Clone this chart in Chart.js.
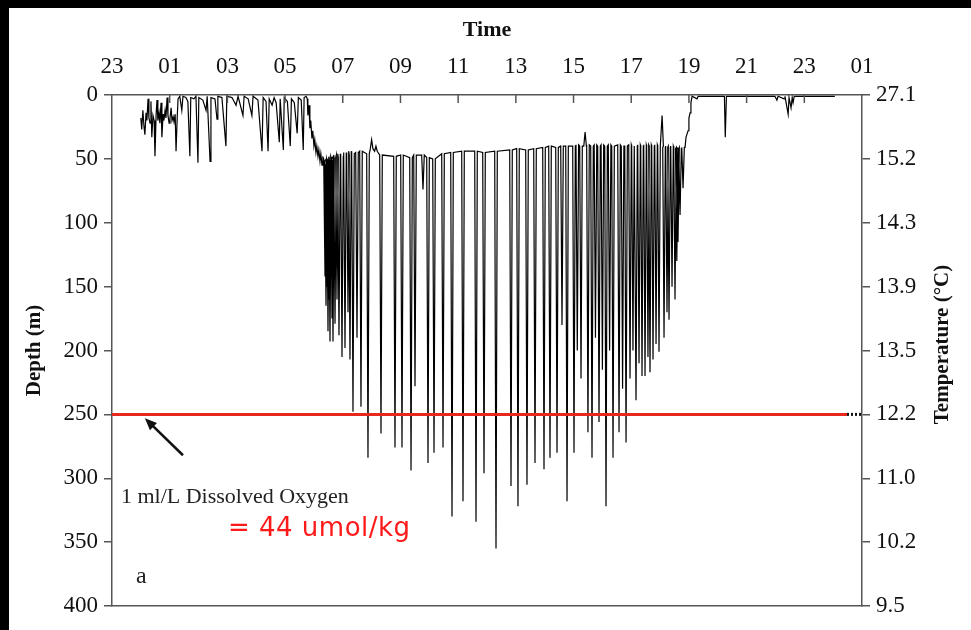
<!DOCTYPE html>
<html>
<head>
<meta charset="utf-8">
<script src="https://cdn.jsdelivr.net/npm/chart.js@4.4.0/dist/chart.umd.min.js"></script>
<style>
html, body { margin: 0; padding: 0; background: #fff; }
</style>
</head>
<body>
<canvas id="depthChart" width="971" height="630"></canvas>
<script>
// time is in hours after midnight of day 1 (23:00 the evening before = -1)
const timeTicks = [-1, 1, 3, 5, 7, 9, 11, 13, 15, 17, 19, 21, 23, 25];
const depthTicks = [0, 50, 100, 150, 200, 250, 300, 350, 400];
const tempLabels = ['27.1', '15.2', '14.3', '13.9', '13.5', '12.2', '11.0', '10.2', '9.5'];

// night: shallow trace, then the descent at dawn
const nightHours = [0.00, 0.03, 0.07, 0.11, 0.14, 0.18, 0.21, 0.25, 0.28, 0.32, 0.35, 0.38, 0.42, 0.46, 0.49,
    0.53, 0.56, 0.59, 0.63, 0.66, 0.70, 0.73, 0.77, 0.80, 0.84, 0.87, 0.91, 0.94, 0.98, 1.01, 1.05, 1.08, 1.12,
    1.15, 1.19, 1.22, 1.26, 1.29, 1.35, 1.42, 1.46, 1.56, 1.63, 1.70, 1.73, 1.84, 1.91, 1.98, 2.01, 2.15, 2.26,
    2.30, 2.40, 2.43, 2.57, 2.64, 2.67, 2.81, 2.95, 2.98, 3.16, 3.30, 3.37, 3.54, 3.58, 3.72, 3.85, 3.89, 4.06,
    4.20, 4.24, 4.34, 4.41, 4.45, 4.55, 4.62, 4.69, 4.80, 4.83, 4.94, 4.97, 5.08, 5.18, 5.22, 5.32, 5.42, 5.46,
    5.56, 5.63, 5.66, 5.73, 5.77, 5.79, 5.83, 5.86, 5.89, 5.93, 5.96, 6.00, 6.03, 6.07, 6.10, 6.14, 6.17, 6.21,
    6.24, 6.28, 6.31, 6.35];
const nightDepths = [18, 27, 12, 25, 31, 14, 20, 3, 18, 22, 5, 33, 16, 20, 48,
    15, 4, 20, 14, 22, 6, 33, 15, 20, 12, 18, 2, 16, 22, 18, 10, 20, 17,
    21, 15, 44, 18, 3, 1, 12, 1, 2, 5, 48, 2, 3, 1, 53, 2, 4, 12,
    1, 52, 2, 3, 19, 1, 2, 40, 1, 2, 8, 1, 16, 1, 3, 16, 1, 4,
    44, 2, 5, 44, 3, 8, 2, 6, 37, 3, 43, 2, 5, 40, 3, 6, 30, 2,
    4, 43, 2, 1, 3, 16, 8, 26, 20, 34, 28, 40, 35, 45, 40, 48, 43, 52,
    46, 55, 48, 53];

// day: dives below the ~45 m shelf (time of bottom, max depth, shelf depth around it)
const diveHours = [6.384, 6.419, 6.453, 6.488, 6.523, 6.557, 6.592, 6.627, 6.661, 6.731, 6.800, 6.869, 6.973,
    7.077, 7.181, 7.250, 7.354, 7.493, 7.631, 7.874, 8.00, 8.15, 8.325, 8.810, 9.053, 9.366, 9.504, 9.781,
    9.955, 10.163, 10.475, 10.787, 11.168, 11.619, 11.896, 12.312, 12.832, 13.074, 13.386, 13.664, 13.976,
    14.184, 14.427, 14.60, 14.774, 15.016, 15.13, 15.259, 15.40, 15.50, 15.640, 15.76, 15.883, 16.00, 16.126,
    16.25, 16.369, 16.577, 16.70, 16.820, 16.958, 17.06, 17.166, 17.27, 17.374, 17.478, 17.58, 17.651,
    17.755, 17.86, 17.963, 18.07, 18.137, 18.24, 18.310, 18.414, 18.518, 18.58, 18.622, 18.692, 18.796];
const diveDepths = [142, 165, 150, 185, 160, 193, 140, 175, 193, 179, 160, 188, 205,
    198, 170, 207, 248, 190, 244, 284, 35, 40, 265, 276, 276, 294, 228, 74,
    288, 280, 276, 330, 318, 334, 296, 355, 306, 322, 305, 288, 293,
    284, 280, 180, 318, 280, 200, 222, 29, 264, 284, 190, 256, 215, 322,
    200, 284, 264, 230, 272, 222, 200, 239, 210, 220, 220, 205, 217,
    207, 195, 201, 16, 190, 170, 176, 150, 160, 130, 115, 94, 73];
const shelfDepths = [50, 52, 55, 50, 53, 50, 52, 48, 50, 47, 49, 46, 48,
    45, 47, 44, 46, 45, 44, 46, 42, 44, 47, 48, 47, 49, 47, 47,
    49, 50, 46, 45, 44, 44, 45, 44, 43, 42, 43, 42, 41,
    40, 41, 40, 40, 40, 39, 40, 40, 39, 40, 39, 40, 39, 40,
    39, 40, 39, 40, 40, 39, 40, 40, 39, 40, 39, 40, 39,
    40, 39, 40, 40, 41, 40, 41, 40, 41, 42, 41, 42, 41];

// evening: ascent to the surface and night at the surface
const eveningHours = [18.866, 18.90, 18.97, 19.00, 19.04, 19.07, 19.11, 19.28, 19.32, 20.23, 20.26, 20.30,
    21.98, 22.05, 22.09, 22.30, 22.33, 22.44, 22.47, 22.54, 22.58, 22.61, 22.65, 24.06];
const eveningDepths = [41, 33, 28, 18, 14, 6, 1, 3, 1, 1, 33, 1,
    1, 4, 1, 3, 1, 15, 2, 10, 2, 6, 1, 1];

const oxygenDepth = 250;
const oxygenRedEnd = 24.48;

const serif = "'Liberation Serif', 'Times New Roman', serif";
const axisColor = '#555';

const trace = [];
nightHours.forEach((h, i) => trace.push({ x: h, y: nightDepths[i] }));
const halfWidth = 0.045;
diveHours.forEach((h, i) => {
    trace.push({ x: h - halfWidth, y: shelfDepths[i] });
    trace.push({ x: h, y: diveDepths[i] });
    trace.push({ x: h + halfWidth, y: shelfDepths[i] });
});
eveningHours.forEach((h, i) => trace.push({ x: h, y: eveningDepths[i] }));

const decorations = {
    id: 'decorations',
    beforeDraw(chart) {
        const ctx = chart.ctx;
        ctx.save();
        ctx.fillStyle = '#fff';
        ctx.fillRect(0, 0, chart.width, chart.height);
        ctx.fillStyle = '#000';
        ctx.fillRect(0, 0, chart.width, 8);
        ctx.fillRect(0, 0, 9, chart.height);
        ctx.restore();
    },
    afterDraw(chart) {
        const ctx = chart.ctx;
        const xs = chart.scales.x;
        const ys = chart.scales.y;
        const area = chart.chartArea;
        ctx.save();

        // inward ticks on the time axis
        ctx.strokeStyle = axisColor;
        ctx.lineWidth = 1.5;
        timeTicks.slice(1, -1).forEach(t => {
            const px = xs.getPixelForValue(t);
            ctx.beginPath();
            ctx.moveTo(px, area.top);
            ctx.lineTo(px, area.top + 8);
            ctx.stroke();
        });

        // arrow pointing at the oxygen line
        const x0 = xs.getPixelForValue(1.46), y0 = ys.getPixelForValue(282);
        const x1 = xs.getPixelForValue(0.14), y1 = ys.getPixelForValue(253);
        const ang = Math.atan2(y1 - y0, x1 - x0);
        ctx.strokeStyle = '#111';
        ctx.fillStyle = '#111';
        ctx.lineWidth = 2.5;
        ctx.beginPath();
        ctx.moveTo(x0, y0);
        ctx.lineTo(x1 - 6 * Math.cos(ang), y1 - 6 * Math.sin(ang));
        ctx.stroke();
        ctx.beginPath();
        ctx.moveTo(x1, y1);
        ctx.lineTo(x1 - 13 * Math.cos(ang - 0.4), y1 - 13 * Math.sin(ang - 0.4));
        ctx.lineTo(x1 - 13 * Math.cos(ang + 0.4), y1 - 13 * Math.sin(ang + 0.4));
        ctx.closePath();
        ctx.fill();

        ctx.textBaseline = 'middle';
        ctx.textAlign = 'left';
        ctx.fillStyle = '#222';
        ctx.font = '22px ' + serif;
        ctx.fillText('1 ml/L Dissolved Oxygen', xs.getPixelForValue(-0.69), ys.getPixelForValue(315));
        ctx.font = '24px ' + serif;
        ctx.fillText('a', xs.getPixelForValue(-0.17), ys.getPixelForValue(377));

        ctx.fillStyle = '#ff1a1a';
        ctx.font = "26px 'DejaVu Sans', sans-serif";
        ctx.letterSpacing = '0.5px';
        ctx.fillText('= 44 umol/kg', xs.getPixelForValue(3.02), ys.getPixelForValue(340));
        ctx.letterSpacing = '0px';

        // right axis title reads bottom to top
        ctx.translate(943, (area.top + area.bottom) / 2 - 6);
        ctx.rotate(-Math.PI / 2);
        ctx.textAlign = 'center';
        ctx.fillStyle = '#111';
        ctx.font = 'bold 21px ' + serif;
        ctx.fillText('Temperature (\u00B0C)', 0, 0);
        ctx.restore();
    }
};

const ctx = document.getElementById('depthChart').getContext('2d');

new Chart(ctx, {
    type: 'line',
    data: {
        datasets: [{
            label: '1 ml/L dissolved oxygen',
            data: [{ x: -1, y: oxygenDepth }, { x: oxygenRedEnd, y: oxygenDepth }],
            borderColor: '#e8281c',
            borderWidth: 3,
            pointRadius: 0
        }, {
            label: 'oxygen end',
            data: [{ x: oxygenRedEnd, y: oxygenDepth }, { x: 25, y: oxygenDepth }],
            borderColor: '#111',
            borderWidth: 3,
            borderDash: [2, 2],
            pointRadius: 0
        }, {
            label: 'Depth',
            data: trace,
            borderColor: '#000',
            borderWidth: 1.2,
            pointRadius: 0,
            tension: 0
        }]
    },
    options: {
        responsive: false,
        animation: false,
        layout: { padding: 0 },
        plugins: {
            legend: { display: false },
            tooltip: { enabled: false }
        },
        scales: {
            x: {
                type: 'linear',
                position: 'top',
                min: -1,
                max: 25,
                afterBuildTicks: axis => { axis.ticks = timeTicks.map(v => ({ value: v })); },
                ticks: {
                    callback: v => String(((v % 24) + 24) % 24).padStart(2, '0'),
                    font: { family: serif, size: 23 },
                    color: '#111',
                    padding: 14,
                    maxRotation: 0,
                    autoSkip: false
                },
                grid: { drawOnChartArea: false, drawTicks: false },
                border: { color: axisColor, width: 1.5 },
                title: {
                    display: true,
                    text: 'Time',
                    font: { family: serif, size: 22, weight: 'bold' },
                    color: '#111',
                    padding: { top: 17, bottom: 0 }
                },
                afterFit: axis => { axis.height = 95; }
            },
            xb: {
                type: 'linear',
                position: 'bottom',
                min: -1,
                max: 25,
                ticks: { display: false },
                grid: { drawOnChartArea: false, drawTicks: false },
                border: { color: axisColor, width: 1.5 },
                afterFit: axis => { axis.height = 24; }
            },
            y: {
                type: 'linear',
                position: 'left',
                reverse: true,
                min: 0,
                max: 400,
                afterBuildTicks: axis => { axis.ticks = depthTicks.map(v => ({ value: v })); },
                ticks: {
                    font: { family: serif, size: 23 },
                    color: '#111',
                    padding: 6
                },
                grid: { drawOnChartArea: false, tickLength: 8, color: axisColor, lineWidth: 1.5 },
                border: { color: axisColor, width: 1.5 },
                title: {
                    display: true,
                    text: 'Depth (m)',
                    font: { family: serif, size: 21, weight: 'bold' },
                    color: '#111',
                    padding: { top: 22, bottom: 0 }
                },
                afterFit: axis => { axis.width = 112; }
            },
            yT: {
                type: 'linear',
                position: 'right',
                reverse: true,
                min: 0,
                max: 400,
                afterBuildTicks: axis => { axis.ticks = depthTicks.map(v => ({ value: v })); },
                ticks: {
                    callback: (v, i) => tempLabels[i],
                    font: { family: serif, size: 23 },
                    color: '#111',
                    padding: 6
                },
                grid: { drawOnChartArea: false, tickLength: 8, color: axisColor, lineWidth: 1.5 },
                border: { color: axisColor, width: 1.5 },
                afterFit: axis => { axis.width = 109; }
            }
        }
    },
    plugins: [decorations]
});
</script>
</body>
</html>
